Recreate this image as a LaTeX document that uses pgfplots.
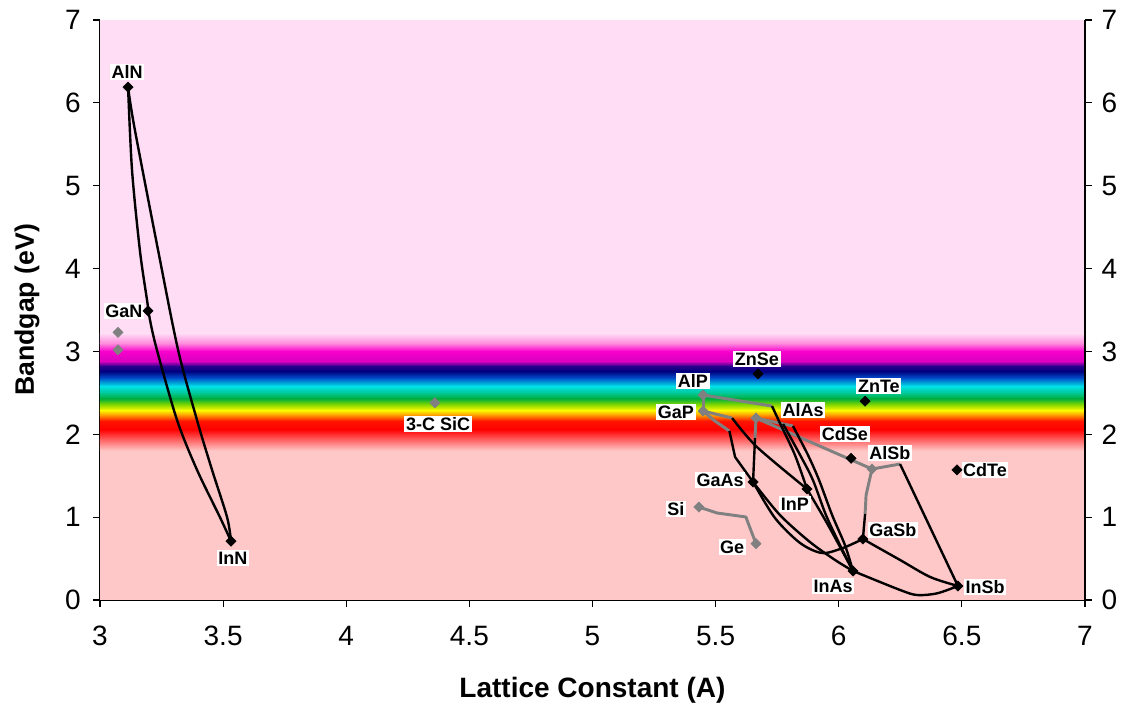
\documentclass[border=0pt]{standalone}
\usepackage{fontspec}
\setmainfont{Liberation Sans}
\usepackage{pgfplots}
\pgfplotsset{compat=1.18}

\definecolor{bgtop}{RGB}{255,221,245}
\definecolor{bgbot}{RGB}{255,200,200}
\definecolor{c1}{RGB}{255,140,222}
\definecolor{c2}{RGB}{248,0,205}
\definecolor{c3}{RGB}{215,0,190}
\definecolor{c4}{RGB}{40,0,140}
\definecolor{c5}{RGB}{0,0,128}
\definecolor{c6}{RGB}{0,80,200}
\definecolor{c7}{RGB}{0,225,230}
\definecolor{c8}{RGB}{0,200,150}
\definecolor{c9}{RGB}{0,175,60}
\definecolor{c10}{RGB}{130,215,0}
\definecolor{c11}{RGB}{250,250,0}
\definecolor{c12}{RGB}{255,150,0}
\definecolor{c13}{RGB}{255,20,0}
\definecolor{c14}{RGB}{255,0,0}
\definecolor{c15}{RGB}{255,110,110}
\definecolor{ind}{RGB}{128,128,128}

\newcommand{\band}[4]{\shade[bottom color=#3, top color=#4, draw=none] (axis cs:3,#1) rectangle (axis cs:7,#2);}

\tikzset{lbl/.style={fill=white, inner sep=1.2pt, font=\bfseries\fontsize{13.5}{15}\selectfont}}

\begin{document}
\begin{tikzpicture}
\pgfplotsset{
  blk/.style={black, line width=1.8pt, no markers, line join=round},
  gry/.style={ind, line width=2.2pt, no markers, line join=round},
}
\begin{axis}[
  scale only axis, width=738.75pt, height=435pt,
  xmin=3, xmax=7, ymin=0, ymax=7,
  axis x line*=bottom, axis y line*=left,
  axis line style={-, black, line width=0.8pt},
  xtick={3,3.5,4,4.5,5,5.5,6,6.5,7},
  xticklabels={3,3.5,4,4.5,5,5.5,6,6.5,7},
  ytick={0,1,2,3,4,5,6,7},
  yticklabels={0,1,2,3,4,5,6,7},
  tick align=outside, major tick length=5pt,
  tick style={black, line width=0.8pt},
  tick label style={font=\fontsize{21}{24}\selectfont},
  xticklabel style={yshift=-11pt},
  yticklabel style={xshift=-6pt},
  xlabel={Lattice Constant (A)}, ylabel={Bandgap (eV)},
  every axis x label/.style={at={(axis description cs:0.5,-0.155)}, anchor=center, font=\bfseries\fontsize{21}{24}\selectfont},
  every axis y label/.style={at={(axis description cs:-0.074,0.5)}, rotate=90, anchor=center, font=\bfseries\fontsize{20}{24}\selectfont},
  clip=true,
]
% background
\fill[bgtop] (axis cs:3,3.22) rectangle (axis cs:7,7);
\fill[bgbot] (axis cs:3,0) rectangle (axis cs:7,1.80);
\band{3.10}{3.22}{c1}{bgtop}
\band{3.00}{3.10}{c2}{c1}
\band{2.88}{3.00}{c3}{c2}
\band{2.82}{2.88}{c4}{c3}
\band{2.76}{2.82}{c5}{c4}
\band{2.68}{2.76}{c6}{c5}
\band{2.58}{2.68}{c7}{c6}
\band{2.50}{2.58}{c8}{c7}
\band{2.43}{2.50}{c9}{c8}
\band{2.36}{2.43}{c10}{c9}
\band{2.29}{2.36}{c11}{c10}
\band{2.23}{2.29}{c12}{c11}
\band{2.16}{2.23}{c13}{c12}
\band{2.06}{2.16}{c14}{c13}
\band{1.92}{2.06}{c15}{c14}
\band{1.80}{1.92}{bgbot}{c15}

% nitride curves
\addplot[blk, smooth, tension=0.5] coordinates {(3.114,6.19) (3.130,5.19) (3.162,4.22) (3.191,3.62) (3.203,3.38) (3.231,3.02) (3.313,2.17) (3.394,1.57) (3.487,1.00) (3.532,0.71)};
\addplot[blk, smooth, tension=0.5] coordinates {(3.114,6.19) (3.140,5.70) (3.236,4.22) (3.317,3.02) (3.394,2.17) (3.455,1.57) (3.516,1.00) (3.532,0.71)};

% indirect (gray) segments
\addplot[gry] coordinates {(5.449,2.474) (5.449,2.281)};
\addplot[gry] coordinates {(5.449,2.474) (5.729,2.341)};
\addplot[gry] coordinates {(5.449,2.281) (5.567,2.196)};
\addplot[gry] coordinates {(5.449,2.281) (5.497,2.160) (5.556,2.040)};
\addplot[gry] coordinates {(5.664,2.196) (5.660,1.955)};
\addplot[gry] coordinates {(5.664,2.196) (5.814,2.100)};
\addplot[gry] coordinates {(5.664,2.196) (6.135,1.581)};
\addplot[gry] coordinates {(6.135,1.581) (6.249,1.641)};
\addplot[gry] coordinates {(6.135,1.581) (6.111,1.267) (6.107,1.038)};
\addplot[gry] coordinates {(5.432,1.122) (5.506,1.050) (5.623,1.002) (5.632,0.929) (5.664,0.680)};

% direct (black) segments
\addplot[blk] coordinates {(5.556,2.040) (5.579,1.726) (5.652,1.424)};
\addplot[blk, smooth, tension=0.5] coordinates {(5.567,2.196) (5.668,1.846) (5.871,1.340)};
\addplot[blk] coordinates {(5.660,1.955) (5.652,1.424)};
\addplot[blk, smooth, tension=0.5] coordinates {(5.729,2.341) (5.761,2.136) (5.822,1.750) (5.871,1.340)};
\addplot[blk, smooth, tension=0.5] coordinates {(5.774,2.124) (5.843,1.750) (5.895,1.448) (5.948,1.026) (6.005,0.664) (6.058,0.350)};
\addplot[blk, smooth, tension=0.5] coordinates {(5.814,2.100) (5.875,1.750) (5.920,1.448) (5.973,1.026) (6.025,0.664) (6.058,0.350)};
\addplot[blk, smooth, tension=0.5] coordinates {(5.871,1.340) (5.952,0.929) (6.034,0.483) (6.058,0.350)};
\addplot[blk, smooth, tension=0.5] coordinates {(5.652,1.424) (5.761,1.026) (5.883,0.700) (5.985,0.483) (6.058,0.350)};
\addplot[blk, smooth, tension=0.5] coordinates {(5.652,1.424) (5.741,0.990) (5.843,0.688) (5.932,0.567) (6.017,0.628) (6.098,0.736)};
\addplot[blk, smooth, tension=0.5] coordinates {(6.058,0.350) (6.249,0.121) (6.318,0.060) (6.399,0.080) (6.484,0.169)};
\addplot[blk, smooth, tension=0.5] coordinates {(6.098,0.736) (6.249,0.483) (6.371,0.278) (6.484,0.169)};
\addplot[blk] coordinates {(6.249,1.641) (6.484,0.169)};
\addplot[blk] coordinates {(6.107,1.038) (6.098,0.736)};

% markers
\addplot[only marks, mark=square*, mark size=2.7pt, ind, mark options={fill=ind, draw=ind, rotate=45}] coordinates {
(3.073,3.23) (3.073,3.02) (4.360,2.38) (5.449,2.474) (5.449,2.281) (5.664,2.196) (6.135,1.581) (5.432,1.122) (5.664,0.680)};
\addplot[only marks, mark=square*, mark size=2.7pt, black, mark options={fill=black, draw=black, rotate=45}] coordinates {
(3.114,6.19) (3.195,3.49) (3.532,0.71) (5.672,2.73) (6.107,2.40) (6.050,1.71) (6.480,1.57) (5.652,1.424) (5.871,1.340) (6.098,0.736) (6.058,0.350) (6.484,0.169)};

% labels
\node[lbl] at (axis cs:3.110,6.37) {AlN};
\node[lbl] at (axis cs:3.097,3.49) {GaN};
\node[lbl] at (axis cs:3.540,0.507) {InN};
\node[lbl] at (axis cs:4.373,2.124) {3-C SiC};
\node[lbl] at (axis cs:5.668,2.908) {ZnSe};
\node[lbl] at (axis cs:6.163,2.583) {ZnTe};
\node[lbl] at (axis cs:5.408,2.643) {AlP};
\node[lbl] at (axis cs:5.339,2.269) {GaP};
\node[lbl] at (axis cs:5.855,2.293) {AlAs};
\node[lbl] at (axis cs:6.025,2.003) {CdSe};
\node[lbl] at (axis cs:6.208,1.774) {AlSb};
\node[lbl] at (axis cs:6.594,1.569) {CdTe};
\node[lbl] at (axis cs:5.518,1.448) {GaAs};
\node[lbl] at (axis cs:5.822,1.159) {InP};
\node[lbl] at (axis cs:5.339,1.098) {Si};
\node[lbl] at (axis cs:6.220,0.845) {GaSb};
\node[lbl] at (axis cs:5.567,0.640) {Ge};
\node[lbl] at (axis cs:5.977,0.169) {InAs};
\node[lbl] at (axis cs:6.594,0.157) {InSb};
\end{axis}
\begin{axis}[
  scale only axis, width=738.75pt, height=435pt,
  xmin=3, xmax=7, ymin=0, ymax=7,
  axis x line=none, axis y line*=right,
  axis line style={-, black, line width=0.8pt},
  ytick={0,1,2,3,4,5,6,7},
  yticklabels={0,1,2,3,4,5,6,7},
  tick align=outside, major tick length=5pt,
  tick style={black, line width=0.8pt},
  tick label style={font=\fontsize{21}{24}\selectfont},
  yticklabel style={xshift=4pt},
]
\end{axis}
\pgfresetboundingbox
\path (-75pt,-86.25pt) rectangle (774.75pt,450pt);
\end{tikzpicture}
\end{document}
